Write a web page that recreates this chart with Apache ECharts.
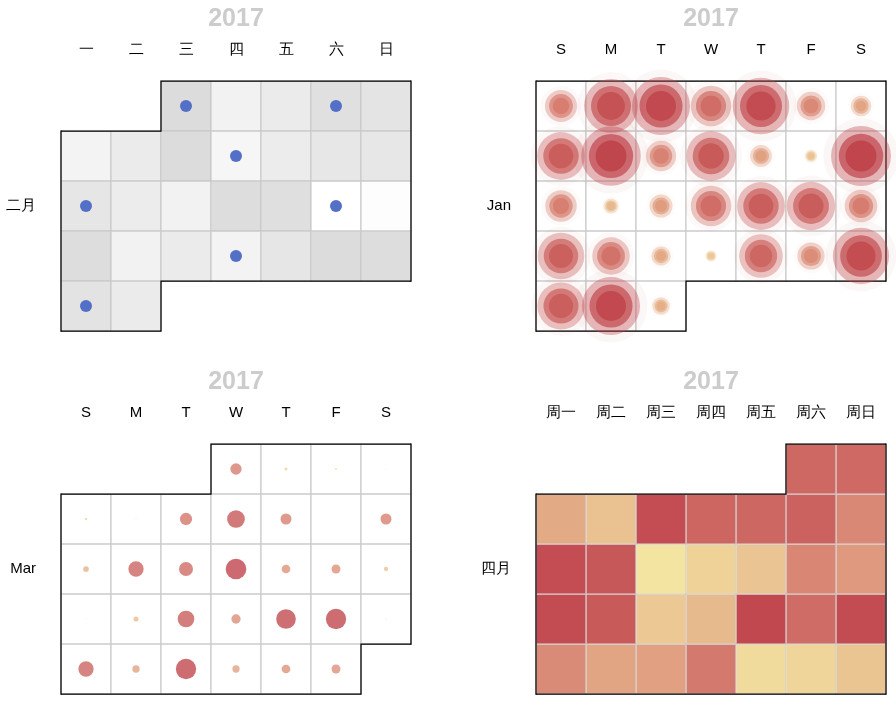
<!DOCTYPE html>
<html>
<head>
<meta charset="utf-8">
<script src="https://cdn.jsdelivr.net/npm/echarts@6/dist/echarts.min.js"></script>
<style>
html,body{margin:0;padding:0;background:#fff;}
#main{width:896px;height:706px;}
</style>
</head>
<body>
<div id="main"></div>
<script>
// ---- data ----
var yearLabel = '2017';
var cnDayNames = ['日', '一', '二', '三', '四', '五', '六'];
var zhDayNames = ['周日', '周一', '周二', '周三', '周四', '周五', '周六'];
var enDayNames = ['S', 'M', 'T', 'W', 'T', 'F', 'S'];
var cnMonthNames = ['一月', '二月', '三月', '四月', '五月', '六月', '七月', '八月', '九月', '十月', '十一月', '十二月'];

// February (heatmap, grey opacity) values for day 1..28
var febValues = [918, 341, 525, 814, 709, 315, 525, 918, 236, 500, 630, 630, 656, 500,
  341, 892, 840, 8, 52, 892, 341, 525, 315, 656, 918, 892, 735, 525];
// Graph nodes in February
var graphDates = ['2017-02-01', '2017-02-04', '2017-02-09', '2017-02-13', '2017-02-18', '2017-02-23', '2017-02-27'];
var graphValues = [260, 200, 279, 847, 241, 411, 985];
// January (effectScatter) values for day 1..31
var janValues = [530, 890, 960, 670, 935, 470, 340, 790, 985, 500, 815, 360, 200, 990,
  520, 250, 380, 670, 790, 800, 540, 770, 620, 320, 180, 720, 450, 930, 780, 960, 290];
// March (scatter) values for day 1..31
var marValues = [542, 144, 100, 40, 120, 50, 590, 850, 528, 20, 528, 274, 734, 672, 990,
  418, 432, 206, 40, 240, 800, 446, 945, 975, 60, 734, 350, 975, 350, 418, 432];
// April (heatmap) values for day 1..30
var aprValues = [710, 700, 316, 206, 927, 726, 720, 758, 472, 927, 839, 50, 133, 197, 482,
  394, 935, 823, 179, 243, 968, 677, 935, 459, 339, 362, 573, 92, 119, 193];

function monthData(ym, values) {
  return values.map(function (v, i) {
    var d = i + 1;
    return [ym + '-' + (d < 10 ? '0' + d : d), v];
  });
}

var chart = echarts.init(document.getElementById('main'));
var cellSize = 50;
var baseCal = function (extra) {
  var c = {
    orient: 'vertical',
    cellSize: cellSize,
    yearLabel: { margin: 49, fontSize: 25, color: '#ccc', fontWeight: 'bolder' },
    monthLabel: { margin: 25, fontSize: 15, color: '#000' },
    dayLabel: { margin: 24, fontSize: 15, color: '#000' },
    itemStyle: { borderWidth: 1.25, borderColor: '#ccc' },
    splitLine: { lineStyle: { color: '#000', width: 1.25 } }
  };
  for (var k in extra) {
    if (typeof extra[k] === 'object' && !Array.isArray(extra[k]) && c[k]) {
      for (var j in extra[k]) c[k][j] = extra[k][j];
    } else {
      c[k] = extra[k];
    }
  }
  return c;
};

var option = {
  animation: false,
  visualMap: [
    {
      show: false,
      min: 0,
      max: 1000,
      seriesIndex: [2, 3, 4],
      inRange: { color: ['#f6efa6', '#d88273', '#bf444c'] }
    },
    {
      show: false,
      min: 0,
      max: 1000,
      seriesIndex: [1],
      inRange: { color: ['grey'], opacity: [0, 0.3] }
    }
  ],
  calendar: [
    baseCal({
      left: 61, top: 81, range: '2017-02',
      monthLabel: { nameMap: cnMonthNames },
      dayLabel: { firstDay: 1, nameMap: cnDayNames }
    }),
    baseCal({
      left: 536, top: 81, range: '2017-01',
      dayLabel: { firstDay: 0, nameMap: enDayNames }
    }),
    baseCal({
      left: 61, top: 444, range: '2017-03',
      dayLabel: { firstDay: 0, nameMap: enDayNames }
    }),
    baseCal({
      left: 536, top: 444, range: '2017-04',
      monthLabel: { nameMap: cnMonthNames },
      dayLabel: { firstDay: 1, nameMap: zhDayNames }
    })
  ],
  series: [
    {
      type: 'graph',
      coordinateSystem: 'calendar',
      calendarIndex: 0,
      symbolSize: 12,
      itemStyle: { color: '#5470c6' },
      data: graphDates.map(function (d, i) { return [d, graphValues[i]]; }),
      z: 5
    },
    {
      type: 'heatmap',
      coordinateSystem: 'calendar',
      calendarIndex: 0,
      data: monthData('2017-02', febValues)
    },
    {
      type: 'effectScatter',
      coordinateSystem: 'calendar',
      calendarIndex: 1,
      symbolSize: function (val) { return val[1] / 32; },
      data: monthData('2017-01', janValues)
    },
    {
      type: 'scatter',
      coordinateSystem: 'calendar',
      calendarIndex: 2,
      symbolSize: function (val) { return val[1] / 48; },
      data: monthData('2017-03', marValues)
    },
    {
      type: 'heatmap',
      coordinateSystem: 'calendar',
      calendarIndex: 3,
      data: monthData('2017-04', aprValues)
    }
  ]
};
chart.setOption(option);
</script>
</body>
</html>
